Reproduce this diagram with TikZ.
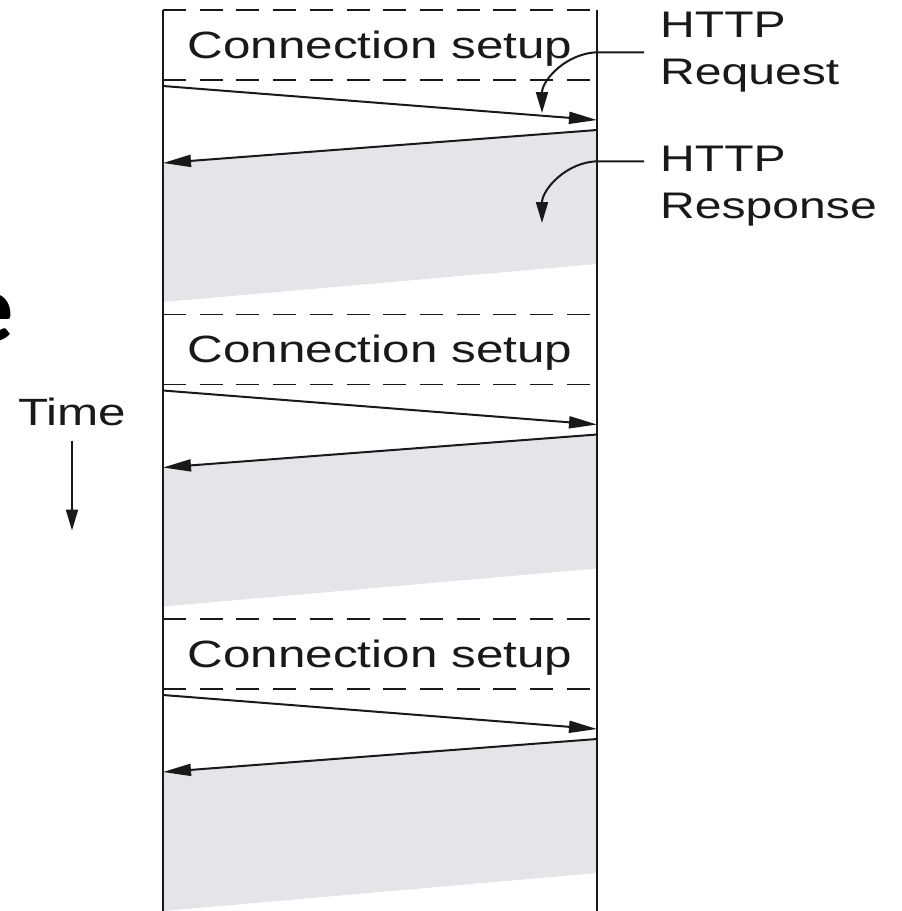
\documentclass[tikz,border=0pt]{standalone}
\usepackage{fontspec}
\setmainfont{Liberation Sans}[FakeStretch=1.3]
\newfontfamily\bigfont{Carlito}
\usetikzlibrary{arrows.meta, positioning}
\definecolor{respgray}{RGB}{229, 229, 233}
\definecolor{inkgray}{RGB}{25, 25, 25}

\begin{document}
\begin{tikzpicture}[x=1pt, y=-1pt,
    timeline/.style={draw=inkgray, line width=2.2pt},
    setupline/.style={draw=inkgray, line width=1.9pt, dash pattern=on 23pt off 13.7pt},
    msg/.style={draw=inkgray, line width=2pt, -{Triangle[length=28pt, width=12pt]}},
    pointer/.style={draw=inkgray, line width=2pt, -{Triangle[length=21pt, width=12pt]}},
    setuplabel/.style={font=\fontsize{38}{46}\selectfont, text=inkgray, inner sep=0pt, anchor=base},
    sidelabel/.style={font=\fontsize{37}{47}\selectfont, text=inkgray, align=left, inner xsep=16pt, inner ysep=0pt, anchor=north west}]

    \useasboundingbox (0,0) rectangle (902,911);

    % three connections, one after the other
    \foreach \i [evaluate=\i as \yo using \i*304.5] in {0,1,2} {
        \fill[respgray] (597,130+\yo) -- (163,163+\yo) -- (163,302+\yo) -- (597,264+\yo) -- cycle;
        \draw[setupline] (163,10+\yo) -- (597,10+\yo);
        \draw[setupline] (163,80+\yo) -- (597,80+\yo);
        \node[setuplabel] (setup\i) at (380,58+\yo) {Connection setup};
        \coordinate (reqa\i) at (163,86+\yo);
        \coordinate (reqb\i) at (597,120+\yo);
        \coordinate (respa\i) at (597,130+\yo);
        \coordinate (respb\i) at (163,163+\yo);
        \draw[msg] (reqa\i) -- (reqb\i);
        \draw[msg] (respa\i) -- (respb\i);
    }

    \draw[timeline] (163,10) -- (163,911);
    \draw[timeline] (597,10) -- (597,911);

    \node[sidelabel] (req) at (644,12) {HTTP\\Request};
    \node[sidelabel] (resp) at (644,146) {HTTP\\Response};
    \coordinate (reqtip) at (542,113);
    \coordinate (resptip) at (542,223);
    \draw[pointer] (req.west) -- ++(-45,0) to[out=180, in=90] (reqtip);
    \draw[pointer] ([yshift=25pt]resp.west) -- ++(-45,0) to[out=180, in=90] (resptip);

    \node[setuplabel, inner ysep=15pt] (time) at (72,425) {Time};
    \coordinate[below=90pt of time.south] (timeend);
    \draw[pointer] (time) -- (timeend);

    \node[font=\bigfont\bfseries\fontsize{98}{98}\selectfont, anchor=base east, inner sep=0pt] (bigletter) at (14,341) {e};
\end{tikzpicture}
\end{document}
